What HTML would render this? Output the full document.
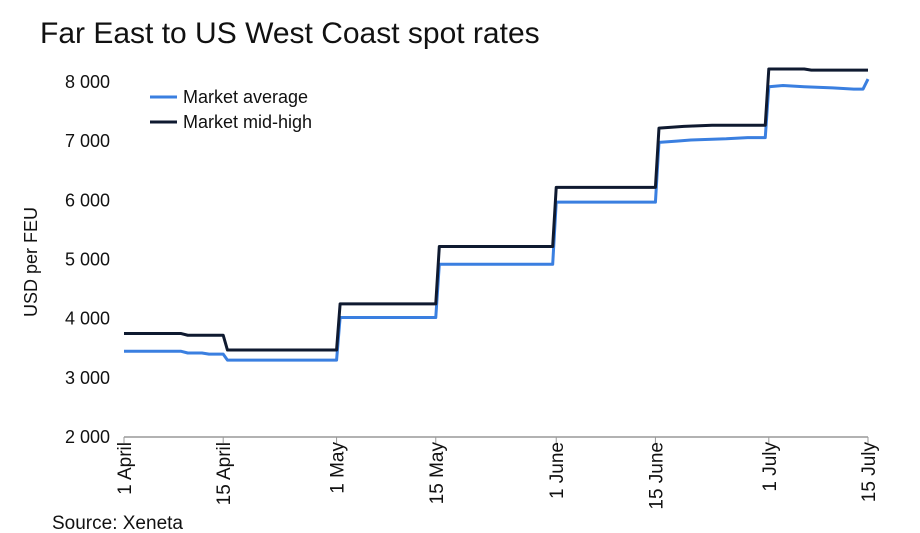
<!DOCTYPE html>
<html><head><meta charset="utf-8"><style>
body{margin:0;background:#fff;}
svg{display:block;font-family:"Liberation Sans",sans-serif;}
</style></head><body>
<svg id="chart" width="920" height="533">
<text x="40" y="43" font-size="30" fill="#111">Far East to US West Coast spot rates</text>
<text transform="translate(37,262) rotate(-90)" text-anchor="middle" font-size="18" fill="#111">USD per FEU</text>
<g id="yticks"></g><g id="xticks"></g><g id="series"></g>
<g>
<line x1="150" y1="97" x2="177" y2="97" stroke="#3a7fe0" stroke-width="3"/>
<text x="183" y="103" font-size="18" fill="#111">Market average</text>
<line x1="150" y1="122" x2="177" y2="122" stroke="#0f1a30" stroke-width="3"/>
<text x="183" y="128" font-size="18" fill="#111">Market mid-high</text>
</g>
<text x="52" y="529" font-size="19" fill="#111">Source: Xeneta</text>
</svg>
<script>
const yTicks=[2000,3000,4000,5000,6000,7000,8000];
const yTickLabels=["2 000","3 000","4 000","5 000","6 000","7 000","8 000"];
const xTickDays=[0,14,30,44,61,75,91,105];
const xTickLabels=["1 April","15 April","1 May","15 May","1 June","15 June","1 July","15 July"];
const avgDays=[0,8,9,11,12,14,14.6,30,30.5,44,44.5,60.5,61,75,75.5,78,80,85,88,90.5,91,93,96,100,103,104.3,105];
const avgValues=[3450,3450,3420,3420,3400,3400,3300,3300,4020,4020,4920,4920,5970,5970,6980,7000,7020,7040,7060,7060,7920,7940,7920,7900,7880,7880,8050];
const highDays=[0,8,9,14,14.6,30,30.5,44,44.5,60.5,61,75,75.5,79,83,90.5,91,96,97,105];
const highValues=[3750,3750,3720,3720,3470,3470,4250,4250,5220,5220,6220,6220,7220,7250,7270,7270,8220,8220,8200,8200];
const ns="http://www.w3.org/2000/svg";
const x0=124,x1=868,y0=437,y1=82;
const xS=d=>x0+(x1-x0)*d/105;
const yS=v=>y0-(y0-y1)*(v-2000)/6000;
const yt=document.getElementById('yticks');
yTicks.forEach((v,i)=>{
 const t=document.createElementNS(ns,'text');
 
 
 t.setAttribute('x',110);t.setAttribute('y',yS(v)+6);
 t.setAttribute('text-anchor','end');t.setAttribute('font-size','18');t.setAttribute('fill','#111');
 t.textContent=yTickLabels[i];yt.appendChild(t);
});
const xt=document.getElementById('xticks');
const ax=document.createElementNS(ns,'path');


ax.setAttribute('d',`M${x0},${y0}H${x1}`);ax.setAttribute('stroke','#999');ax.setAttribute('stroke-width','1.5');
xt.appendChild(ax);
xTickDays.forEach((d,i)=>{
 const l=document.createElementNS(ns,'line');
 
 
 l.setAttribute('x1',xS(d));l.setAttribute('x2',xS(d));l.setAttribute('y1',y0);l.setAttribute('y2',y0+6);
 l.setAttribute('stroke','#999');xt.appendChild(l);
 const t=document.createElementNS(ns,'text');
 
 
 t.setAttribute('transform',`translate(${xS(d)+7},${y0+5}) rotate(-90)`);
 t.setAttribute('text-anchor','end');t.setAttribute('font-size','19');t.setAttribute('fill','#111');
 t.textContent=xTickLabels[i];xt.appendChild(t);
});
function line(days,vals,color,name){
 const p=document.createElementNS(ns,'polyline');
 
 
 p.setAttribute('points',days.map((d,i)=>xS(d)+','+yS(vals[i])).join(' '));
 p.setAttribute('fill','none');p.setAttribute('stroke',color);p.setAttribute('stroke-width','3');
 p.setAttribute('stroke-linejoin','round');
 document.getElementById('series').appendChild(p);
}
line(avgDays,avgValues,'#3a7fe0','market-average-line');
line(highDays,highValues,'#0f1a30','market-mid-high-line');
</script>
</body></html>
